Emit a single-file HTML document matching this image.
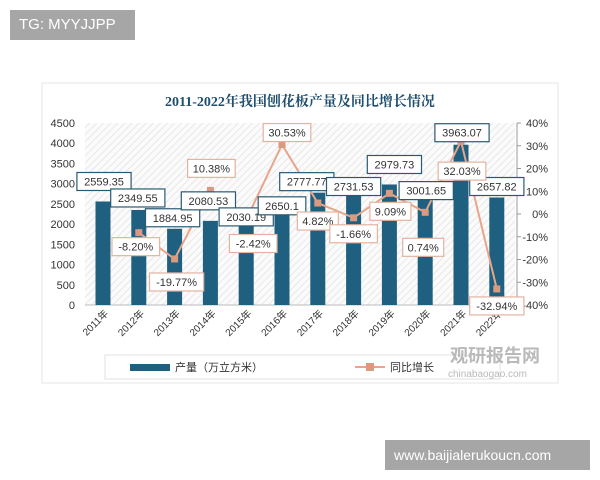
<!DOCTYPE html>
<html><head><meta charset="utf-8"><style>
body{margin:0;width:600px;height:480px;background:#fff;position:relative;overflow:hidden;font-family:"Liberation Sans","Noto Sans CJK SC",sans-serif}
.badge{position:absolute;background:#a6a6a6;color:#fff;font-size:15px;line-height:30px;padding:0 9px}
</style></head><body>
<div class="badge" style="left:10px;top:10px;width:107px">TG: MYYJJPP</div>
<div class="badge" style="left:385px;top:440px;width:187px;font-size:14px">www.baijialerukoucn.com</div>
<svg id="c" width="600" height="480" style="position:absolute;left:0;top:0">
<defs><pattern id="h" width="5" height="5" patternUnits="userSpaceOnUse" patternTransform="rotate(45)"><rect width="5" height="5" fill="#fbfbfb"/><line x1="0" y1="0" x2="0" y2="5" stroke="#e2e2e2" stroke-width="1.5"/></pattern></defs>
<rect x="42" y="83" width="516" height="300" fill="#fff" stroke="#e6e6e6"/>
<text x="300" y="106" text-anchor="middle" font-family="'Liberation Serif','Noto Serif CJK SC',serif" font-weight="bold" font-size="14" fill="#1f4e6e">2011-2022年我国刨花板产量及同比增长情况</text>
<rect x="85" y="123" width="430" height="182" fill="url(#h)"/>
<g id="g"></g>
<rect x="105" y="355" width="395" height="24" fill="#fff" stroke="#e0e0e0"/>
<rect x="130" y="364" width="40" height="7" fill="#1f5f80"/>
<text x="175" y="371" font-size="11" fill="#333">产量（万立方米）</text>
<line x1="355" y1="367" x2="385" y2="367" stroke="#e8a58a" stroke-width="2"/>
<rect x="366" y="363" width="8" height="8" fill="#d99a80"/>
<text x="390" y="371" font-size="11" fill="#333">同比增长</text>
<text x="450" y="362" font-size="18" font-weight="bold" fill="#b9b9b9">观研报告网</text>
<text x="448" y="377" font-size="10" fill="#b9b9b9">chinabaogao.com</text>
</svg>
<script>
const years=["2011年","2012年","2013年","2014年","2015年","2016年","2017年","2018年","2019年","2020年","2021年","2022年"];
const output=[2559.35,2349.55,1884.95,2080.53,2030.19,2650.1,2777.77,2731.53,2979.73,3001.65,3963.07,2657.82];
const growth=[null,-8.20,-19.77,10.38,-2.42,30.53,4.82,-1.66,9.09,0.74,32.03,-32.94];
const leftTicks=[0,500,1000,1500,2000,2500,3000,3500,4000,4500];
const rightTicks=[-40,-30,-20,-10,0,10,20,30,40];
const barLblDx=[1,-1,-2,-2,0,0,-11,0,5,1,1,0];
const barLblDy=[-20,-12,-11,-20,-6,8,-11,-8,-20,7,-12,-11];
const pctLblDx=[0,-3,2,1,7,5,0,0,1,-2,1,0];
const pctLblDy=[0,14,23,-22,24,-12,18,16,18,35,30,17];
const NS="http://www.w3.org/2000/svg",g=document.getElementById('g');
const x=i=>103+i*35.8, yL=v=>305-v/4500*182, yR=p=>214-p/40*91;
function el(t,a){const e=document.createElementNS(NS,t);for(const k in a)e.setAttribute(k,a[k]);g.appendChild(e);return e;}
leftTicks.forEach(t=>{const e=el('text',{x:75,y:yL(t)+4,'text-anchor':'end','font-size':11,fill:'#333'});e.textContent=t;

});
el('line',{x1:517,y1:123,x2:517,y2:305,stroke:'#999'});
rightTicks.forEach(t=>{const l=el('line',{x1:517,y1:yR(t),x2:521,y2:yR(t),stroke:'#999'});
const e=el('text',{x:548,y:yR(t)+4,'text-anchor':'end','font-size':11,fill:'#333'});e.textContent=t+'%';

});
el('line',{x1:85,y1:305,x2:515,y2:305,stroke:'#bbb'});
years.forEach((yr,i)=>{const b=el('rect',{x:x(i)-7.5,y:yL(output[i]),width:15,height:305-yL(output[i]),fill:'#1f5f80'});


const t=el('text',{transform:`translate(${x(i)+6},${314}) rotate(-45)`,'text-anchor':'end','font-size':10,fill:'#333'});t.textContent=yr;

});
let d='';growth.forEach((p,i)=>{if(p===null)return;d+=(d?'L':'M')+x(i)+' '+yR(p);});
const ln=el('path',{d:d,fill:'none',stroke:'#e8a58a','stroke-width':2});


growth.forEach((p,i)=>{if(p===null)return;const m=el('rect',{x:x(i)-3.5,y:yR(p)-3.5,width:7,height:7,fill:'#d99a80'});

});
function label(cx,cy,txt,col,name){const w=txt.length*6.6+8;
const r=el('rect',{x:cx-w/2,y:cy-9,width:w,height:18,fill:'#fff',stroke:col,'stroke-width':1.2});


const t=el('text',{x:cx,y:cy+4,'text-anchor':'middle','font-size':11,fill:'#333'});t.textContent=txt;

}
output.forEach((v,i)=>label(x(i)+barLblDx[i],yL(v)+barLblDy[i],String(v),'#2a5a72','bar-value-label'));
growth.forEach((p,i)=>{if(p===null)return;label(x(i)+pctLblDx[i],yR(p)+pctLblDy[i],p.toFixed(2)+'%','#e3b3a0','growth-value-label');});
</script>
</body></html>
